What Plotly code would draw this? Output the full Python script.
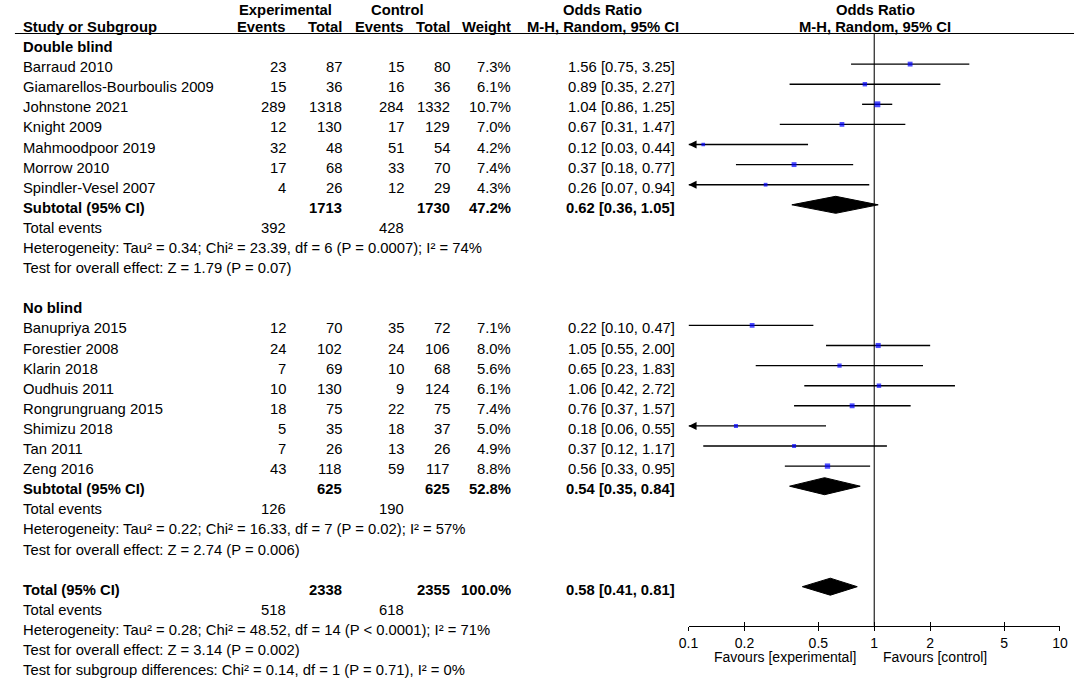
import plotly.graph_objects as go

# ---------------- data ----------------
studies_db = ["Barraud 2010", "Giamarellos-Bourboulis 2009", "Johnstone 2021", "Knight 2009",
              "Mahmoodpoor 2019", "Morrow 2010", "Spindler-Vesel 2007"]
exp_events_db = [23, 15, 289, 12, 32, 17, 4]
exp_total_db = [87, 36, 1318, 130, 48, 68, 26]
ctrl_events_db = [15, 16, 284, 17, 51, 33, 12]
ctrl_total_db = [80, 36, 1332, 129, 54, 70, 29]
weight_db = [7.3, 6.1, 10.7, 7.0, 4.2, 7.4, 4.3]
or_db = [1.56, 0.89, 1.04, 0.67, 0.12, 0.37, 0.26]
lo_db = [0.75, 0.35, 0.86, 0.31, 0.03, 0.18, 0.07]
hi_db = [3.25, 2.27, 1.25, 1.47, 0.44, 0.77, 0.94]

studies_nb = ["Banupriya 2015", "Forestier 2008", "Klarin 2018", "Oudhuis 2011",
              "Rongrungruang 2015", "Shimizu 2018", "Tan 2011", "Zeng 2016"]
exp_events_nb = [12, 24, 7, 10, 18, 5, 7, 43]
exp_total_nb = [70, 102, 69, 130, 75, 35, 26, 118]
ctrl_events_nb = [35, 24, 10, 9, 22, 18, 13, 59]
ctrl_total_nb = [72, 106, 68, 124, 75, 37, 26, 117]
weight_nb = [7.1, 8.0, 5.6, 6.1, 7.4, 5.0, 4.9, 8.8]
or_nb = [0.22, 1.05, 0.65, 1.06, 0.76, 0.18, 0.37, 0.56]
lo_nb = [0.10, 0.55, 0.23, 0.42, 0.37, 0.06, 0.12, 0.33]
hi_nb = [0.47, 2.00, 1.83, 2.72, 1.57, 0.55, 1.17, 0.95]

group_names = ["Double blind", "No blind"]
sub_exp_total = [1713, 625]
sub_ctrl_total = [1730, 625]
sub_weight = [47.2, 52.8]
sub_or = [0.62, 0.54]
sub_lo = [0.36, 0.35]
sub_hi = [1.05, 0.84]
sub_exp_events = [392, 126]
sub_ctrl_events = [428, 190]
sub_het = ["Heterogeneity: Tau² = 0.34; Chi² = 23.39, df = 6 (P = 0.0007); I² = 74%",
           "Heterogeneity: Tau² = 0.22; Chi² = 16.33, df = 7 (P = 0.02); I² = 57%"]
sub_test = ["Test for overall effect: Z = 1.79 (P = 0.07)",
            "Test for overall effect: Z = 2.74 (P = 0.006)"]

tot_exp_total = 2338
tot_ctrl_total = 2355
tot_weight = 100.0
tot_or, tot_lo, tot_hi = 0.58, 0.41, 0.81
tot_exp_events = 518
tot_ctrl_events = 618
tot_lines = ["Heterogeneity: Tau² = 0.28; Chi² = 48.52, df = 14 (P < 0.0001); I² = 71%",
             "Test for overall effect: Z = 3.14 (P = 0.002)",
             "Test for subgroup differences: Chi² = 0.14, df = 1 (P = 0.71), I² = 0%"]

tick_vals = [0.1, 0.2, 0.5, 1, 2, 5, 10]
tick_text = ["0.1", "0.2", "0.5", "1", "2", "5", "10"]
x_min, x_max = 0.1, 10

# ---------------- layout helpers ----------------
W, H = 1084, 681
FONT = "Liberation Sans, Arial, sans-serif"
FS = 14.8
ROW0, STEP = 44.0, 20.1
AXIS_Y = 625.7
HDR_LINE_Y = 33.5
DIA_H = 8.5


def ly(r):
    return ROW0 + STEP * r


def ty(r):
    return ly(r) + 3


COL_NAME = 12
COL_EE = 282
COL_ET = 339
COL_CE = 402
COL_CT = 448
COL_W = 510
COL_CI = 677

fig = go.Figure()
ann = []


def txt(xpx, y, s, anchor="left", bold=False, size=FS):
    ann.append(dict(x=xpx / W, y=y, xref="paper", yref="y", text=("<b>%s</b>" % s) if bold else s,
                    showarrow=False, xanchor=anchor, yanchor="middle", borderpad=0,
                    font=dict(family=FONT, size=size, color="black")))


def fmt_ci(o, l, h):
    return "%.2f [%.2f, %.2f]" % (o, l, h)


# headers
txt(280, 10, "Experimental", "center", True)
txt(394, 10, "Control", "center", True)
txt(603, 10, "Odds Ratio", "center", True)
txt(880, 10, "Odds Ratio", "center", True)
txt(COL_NAME, 27, "Study or Subgroup", "left", True)
txt(COL_EE, 27, "Events", "right", True)
txt(COL_ET, 27, "Total", "right", True)
txt(COL_CE, 27, "Events", "right", True)
txt(COL_CT, 27, "Total", "right", True)
txt(COL_W, 27, "Weight", "right", True)
txt(603, 27, "M-H, Random, 95% CI", "center", True)
txt(880, 27, "M-H, Random, 95% CI", "center", True)

groups = [
    (studies_db, exp_events_db, exp_total_db, ctrl_events_db, ctrl_total_db, weight_db, or_db, lo_db, hi_db),
    (studies_nb, exp_events_nb, exp_total_nb, ctrl_events_nb, ctrl_total_nb, weight_nb, or_nb, lo_nb, hi_nb),
]

ci_x, ci_y = [], []
sq_x, sq_y, sq_s = [], [], []
arr_x, arr_y = [], []
dia_x, dia_y = [], []

r = 0
for g, (names, ee, et, ce, ct, w, o, lo, hi) in enumerate(groups):
    txt(COL_NAME, ty(r), group_names[g], "left", True)
    r += 1
    for i in range(len(names)):
        y = ty(r)
        txt(COL_NAME, y, names[i])
        txt(COL_EE, y, str(ee[i]), "right")
        txt(COL_ET, y, str(et[i]), "right")
        txt(COL_CE, y, str(ce[i]), "right")
        txt(COL_CT, y, str(ct[i]), "right")
        txt(COL_W, y, "%.1f%%" % w[i], "right")
        txt(COL_CI, y, fmt_ci(o[i], lo[i], hi[i]), "right")
        yl = ly(r)
        lo_c = max(lo[i], x_min)
        hi_c = min(hi[i], x_max)
        ci_x += [lo_c, hi_c, None]
        ci_y += [yl, yl, None]
        if lo[i] < x_min:
            arr_x.append(x_min)
            arr_y.append(yl)
        sq_x.append(o[i])
        sq_y.append(yl)
        sq_s.append(1.8 * w[i] ** 0.5)
        r += 1
    # subtotal
    y = ty(r)
    txt(COL_NAME, y, "Subtotal (95% CI)", "left", True)
    txt(COL_ET, y, str(sub_exp_total[g]), "right", True)
    txt(COL_CT, y, str(sub_ctrl_total[g]), "right", True)
    txt(COL_W, y, "%.1f%%" % sub_weight[g], "right", True)
    txt(COL_CI, y, fmt_ci(sub_or[g], sub_lo[g], sub_hi[g]), "right", True)
    yl = ly(r)
    dia_x.append([sub_lo[g], sub_or[g], sub_hi[g], sub_or[g], sub_lo[g]])
    dia_y.append([yl, yl - DIA_H, yl, yl + DIA_H, yl])
    r += 1
    txt(COL_NAME, ty(r), "Total events")
    txt(COL_EE, ty(r), str(sub_exp_events[g]), "right")
    txt(COL_CE, ty(r), str(sub_ctrl_events[g]), "right")
    r += 1
    txt(COL_NAME, ty(r), sub_het[g])
    r += 1
    txt(COL_NAME, ty(r), sub_test[g])
    r += 2

# overall
y = ty(r)
txt(COL_NAME, y, "Total (95% CI)", "left", True)
txt(COL_ET, y, str(tot_exp_total), "right", True)
txt(COL_CT, y, str(tot_ctrl_total), "right", True)
txt(COL_W, y, "%.1f%%" % tot_weight, "right", True)
txt(COL_CI, y, fmt_ci(tot_or, tot_lo, tot_hi), "right", True)
yl = ly(r)
dia_x.append([tot_lo, tot_or, tot_hi, tot_or, tot_lo])
dia_y.append([yl, yl - DIA_H, yl, yl + DIA_H, yl])
r += 1
txt(COL_NAME, ty(r), "Total events")
txt(COL_EE, ty(r), str(tot_exp_events), "right")
txt(COL_CE, ty(r), str(tot_ctrl_events), "right")
r += 1
for s in tot_lines:
    txt(COL_NAME, ty(r), s)
    r += 1

# favours labels
txt(861, 657, "Favours [experimental]", "right", False, 14)
txt(887, 657, "Favours [control]", "left", False, 14)

# ---------------- traces ----------------
fig.add_trace(go.Scatter(x=[1, 1], y=[HDR_LINE_Y, AXIS_Y], mode="lines",
                         line=dict(color="#222222", width=1.2), hoverinfo="skip", showlegend=False))
fig.add_trace(go.Scatter(x=ci_x, y=ci_y, mode="lines", line=dict(color="black", width=1.4),
                         hoverinfo="skip", showlegend=False))
fig.add_trace(go.Scatter(x=arr_x, y=arr_y, mode="markers",
                         marker=dict(symbol="arrow-left", size=8, color="black"),
                         hoverinfo="skip", showlegend=False))
fig.add_trace(go.Scatter(x=sq_x, y=sq_y, mode="markers",
                         marker=dict(symbol="square", size=sq_s, color="#0000FF", line=dict(width=0)),
                         hoverinfo="skip", showlegend=False))
for dx, dy in zip(dia_x, dia_y):
    fig.add_trace(go.Scatter(x=dx, y=dy, mode="lines", fill="toself", fillcolor="black",
                             line=dict(color="black", width=1), hoverinfo="skip", showlegend=False))
fig.add_trace(go.Scatter(x=[1], y=[AXIS_Y], xaxis="x2", mode="markers", marker=dict(opacity=0),
                         hoverinfo="skip", showlegend=False))

ax_pos = 1 - AXIS_Y / H
common_ax = dict(type="log", range=[-1, 1], domain=[690 / W, 1067.7 / W], anchor="free",
                 position=ax_pos, showgrid=False, zeroline=False, tickvals=tick_vals,
                 ticklen=4, tickwidth=1.2, tickcolor="black", fixedrange=True)

fig.update_layout(
    width=W, height=H,
    margin=dict(l=0, r=0, t=0, b=0),
    paper_bgcolor="white", plot_bgcolor="white",
    showlegend=False,
    xaxis=dict(**common_ax, ticks="outside", ticktext=tick_text, showline=True,
               linecolor="black", linewidth=1.2,
               tickfont=dict(family=FONT, size=14, color="black")),
    xaxis2=dict(**common_ax, overlaying="x", ticks="inside", showticklabels=False, showline=False),
    yaxis=dict(range=[H, 0], domain=[0, 1], visible=False, fixedrange=True),
    annotations=ann,
    shapes=[dict(type="line", xref="paper", yref="y", x0=5 / W, x1=1082 / W,
                 y0=HDR_LINE_Y, y1=HDR_LINE_Y, line=dict(color="black", width=1.2))],
)

fig.write_html("out.html", config={"displayModeBar": False},
               post_script="document.body.style.margin='0';document.body.style.overflow='hidden';")
